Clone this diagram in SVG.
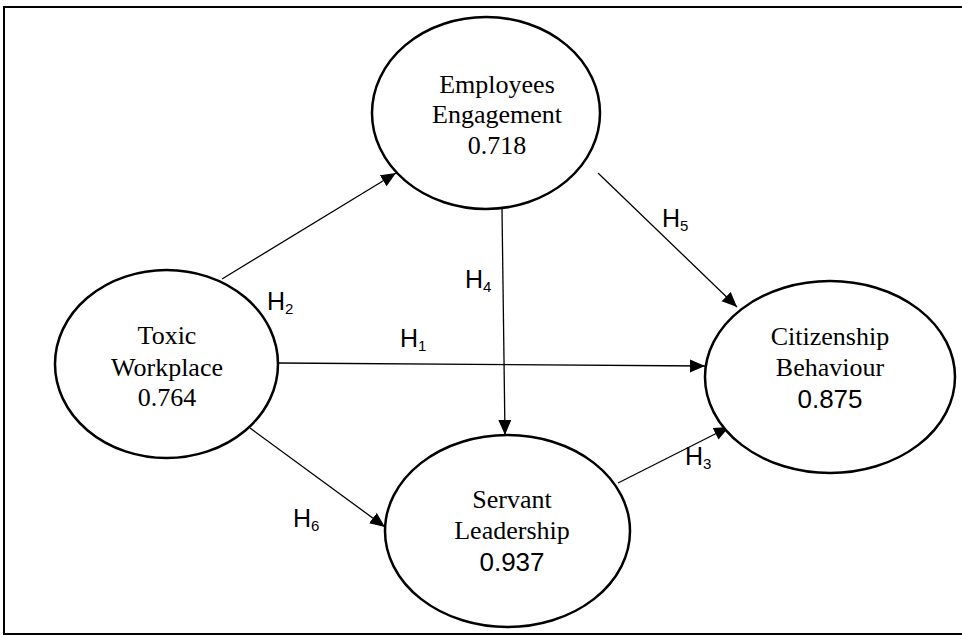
<svg xmlns="http://www.w3.org/2000/svg" width="962" height="637" viewBox="0 0 962 637">
<style>
.node ellipse{fill:#fff;stroke:#000;stroke-width:2.5}
.t{font-family:"Liberation Serif","Times New Roman",serif;font-size:26px;text-anchor:middle;fill:#000}
.s{font-family:"Liberation Sans",Arial,sans-serif;font-size:26px;text-anchor:middle;fill:#000}
.h{font-family:"Liberation Sans",Arial,sans-serif;font-size:25px;fill:#000}
.sub{font-size:15px}
#connectors line{stroke:#000;stroke-width:1.3;marker-end:url(#arr)}
</style>
<defs>
<marker id="arr" markerUnits="userSpaceOnUse" markerWidth="16" markerHeight="14" refX="15" refY="6.5" orient="auto">
<path d="M0,0 L15,6.5 L0,13 z" fill="#000"/>
</marker>
</defs>
<rect x="4" y="7" width="970" height="627" fill="#fff" stroke="#000" stroke-width="2"/>
<g id="connectors">
<line x1="222" y1="279" x2="396" y2="173"/>
<line x1="278" y1="363" x2="705" y2="366"/>
<line x1="502" y1="209" x2="505" y2="435"/>
<line x1="598" y1="173" x2="737" y2="307"/>
<line x1="250" y1="428" x2="385" y2="527"/>
<line x1="618" y1="483" x2="729" y2="427"/>
</g>
<g id="labels">
<text class="h" x="267" y="310">H<tspan class="sub" dy="4">2</tspan></text>
<text class="h" x="400" y="347">H<tspan class="sub" dy="4">1</tspan></text>
<text class="h" x="465" y="288">H<tspan class="sub" dy="4">4</tspan></text>
<text class="h" x="662" y="227">H<tspan class="sub" dy="4">5</tspan></text>
<text class="h" x="293" y="527">H<tspan class="sub" dy="4">6</tspan></text>
<text class="h" x="685" y="465">H<tspan class="sub" dy="4">3</tspan></text>
</g>
<g id="employees" class="node">
<ellipse cx="486" cy="113" rx="114" ry="96"/>
<text class="t" x="497" y="93">Employees</text>
<text class="t" x="497" y="123">Engagement</text>
<text class="t" x="497" y="154">0.718</text>
</g>
<g id="toxic" class="node">
<ellipse cx="166.5" cy="364" rx="111.5" ry="94"/>
<text class="t" x="167" y="344">Toxic</text>
<text class="t" x="167" y="376">Workplace</text>
<text class="t" x="167" y="406">0.764</text>
</g>
<g id="citizenship" class="node">
<ellipse cx="830" cy="377" rx="125" ry="96"/>
<text class="t" x="830" y="345">Citizenship</text>
<text class="t" x="830" y="376">Behaviour</text>
<text class="s" x="830" y="408">0.875</text>
</g>
<g id="servant" class="node">
<ellipse cx="507.5" cy="531" rx="122.5" ry="96"/>
<text class="t" x="512" y="508">Servant</text>
<text class="t" x="512" y="539">Leadership</text>
<text class="s" x="512" y="571">0.937</text>
</g>
</svg>
